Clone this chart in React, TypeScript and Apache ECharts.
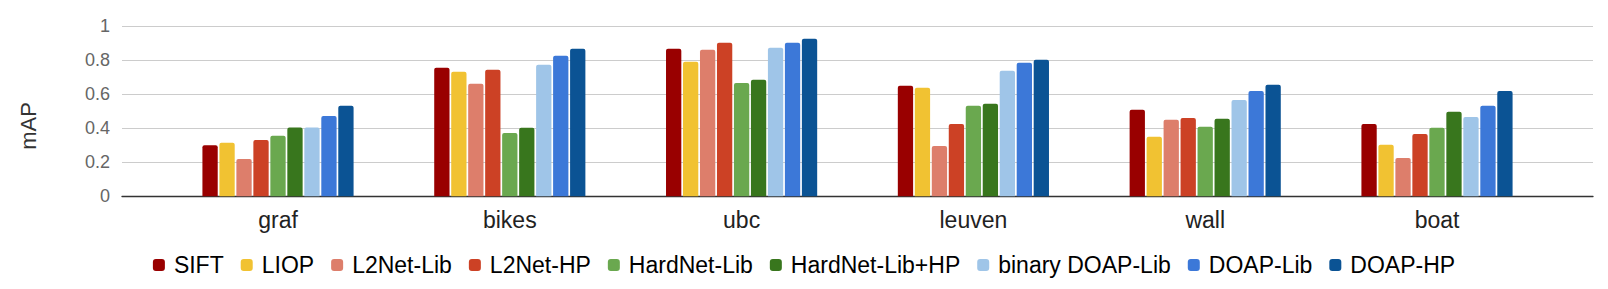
import React, { useEffect, useRef } from "react";
import * as echarts from "echarts";

const categories = ["graf", "bikes", "ubc", "leuven", "wall", "boat"];
const seriesNames = [
  "SIFT",
  "LIOP",
  "L2Net-Lib",
  "L2Net-HP",
  "HardNet-Lib",
  "HardNet-Lib+HP",
  "binary DOAP-Lib",
  "DOAP-Lib",
  "DOAP-HP",
];
const colors = [
  "#990000",
  "#f1c232",
  "#dd7e6b",
  "#cc4125",
  "#6aa84f",
  "#38761d",
  "#9fc5e8",
  "#3c78d8",
  "#0b5394",
];
const sift = [0.3, 0.755, 0.866, 0.649, 0.508, 0.425];
const liop = [0.314, 0.731, 0.79, 0.637, 0.349, 0.302];
const l2netLib = [0.219, 0.661, 0.861, 0.296, 0.449, 0.225];
const l2netHP = [0.331, 0.743, 0.902, 0.425, 0.46, 0.366];
const hardnetLib = [0.355, 0.372, 0.666, 0.531, 0.408, 0.402];
const hardnetLibHP = [0.404, 0.402, 0.684, 0.543, 0.455, 0.496];
const binaryDoapLib = [0.404, 0.772, 0.872, 0.737, 0.566, 0.466];
const doapLib = [0.472, 0.825, 0.902, 0.784, 0.619, 0.531];
const doapHP = [0.531, 0.866, 0.925, 0.802, 0.655, 0.619];
const seriesValues = [
  sift,
  liop,
  l2netLib,
  l2netHP,
  hardnetLib,
  hardnetLibHP,
  binaryDoapLib,
  doapLib,
  doapHP,
];
const yTicks = { min: 0, max: 1, interval: 0.2 };

const FONT = "'Liberation Sans', Arial, sans-serif";

export default function App() {
  const ref = useRef<HTMLDivElement>(null);
  useEffect(() => {
    if (!ref.current) return;
    const chart = echarts.init(ref.current, undefined, { renderer: "svg" });
    chart.setOption({
      animation: false,
      backgroundColor: "#ffffff",
      textStyle: { fontFamily: FONT },
      grid: [
        { left: 122, right: 15, top: 26, bottom: 92.7 },
        { left: 162.1, right: 55.1, top: 26, bottom: 92.7 },
      ],
      xAxis: [
        {
          gridIndex: 0,
          type: "value",
          min: 0,
          max: 1,
          axisLine: { show: true, lineStyle: { color: "#333333", width: 1.3 } },
          axisTick: { show: false },
          axisLabel: { show: false },
          splitLine: { show: false },
        },
        {
          gridIndex: 1,
          type: "category",
          data: categories,
          axisLine: { show: false },
          axisTick: { show: false },
          splitLine: { show: false },
          axisLabel: {
            fontSize: 23,
            color: "#222222",
            margin: 12,
            fontFamily: FONT,
          },
        },
      ],
      yAxis: [
        {
          gridIndex: 0,
          type: "value",
          min: yTicks.min,
          max: yTicks.max,
          interval: yTicks.interval,
          axisLine: { show: false },
          axisTick: { show: false },
          axisLabel: {
            fontSize: 18,
            color: "#666666",
            margin: 12,
            fontFamily: FONT,
          },
          splitLine: { show: true, lineStyle: { color: "#cccccc", width: 1 } },
        },
        {
          gridIndex: 1,
          type: "value",
          min: yTicks.min,
          max: yTicks.max,
          show: false,
          splitLine: { show: false },
        },
      ],
      legend: {
        data: seriesNames,
        left: "center",
        top: 247,
        icon: "roundRect",
        itemWidth: 12,
        itemHeight: 12,
        itemGap: 17,
        textStyle: {
          fontSize: 23,
          color: "#000000",
          fontFamily: FONT,
          padding: [0, 0, 0, 4],
          lineHeight: 26,
        },
      },
      graphic: [
        {
          type: "text",
          x: 28,
          y: 126,
          rotation: Math.PI / 2,
          style: {
            text: "mAP",
            fontSize: 22,
            fontFamily: FONT,
            fill: "#333333",
            align: "center",
            verticalAlign: "middle",
          },
        },
      ],
      series: seriesNames.map((name, i) => ({
        name,
        type: "bar",
        xAxisIndex: 1,
        yAxisIndex: 1,
        data: seriesValues[i],
        barWidth: 15.3,
        barGap: "11%",
        itemStyle: { color: colors[i], borderRadius: [2, 2, 0, 0] },
      })),
    });
    return () => chart.dispose();
  }, []);
  return (
    <div
      ref={ref}
      style={{ position: "fixed", left: 0, top: 0, width: 1608, height: 289 }}
    />
  );
}
